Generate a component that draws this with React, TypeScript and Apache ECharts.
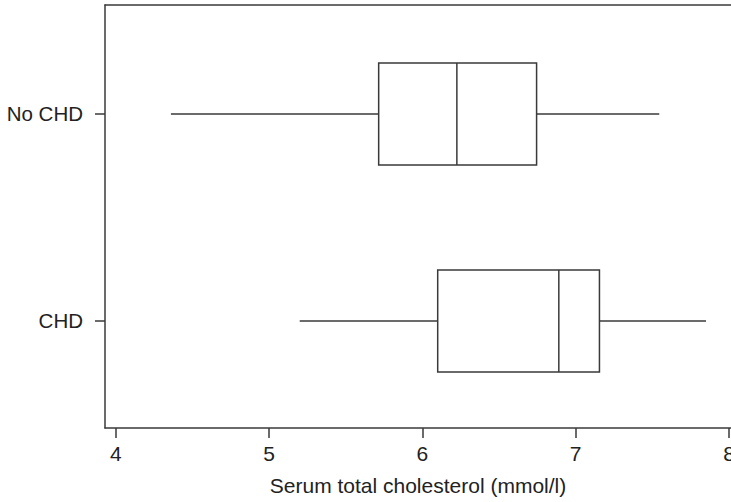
import React, { useEffect, useRef } from "react";
import * as echarts from "echarts";

const categories = ["CHD", "No CHD"];
const whiskerLow = [5.2, 4.36];
const q1 = [6.1, 5.715];
const median = [6.89, 6.225];
const q3 = [7.155, 6.745];
const whiskerHigh = [7.85, 7.545];
const xTicks = [4, 5, 6, 7, 8];
const xAxisTitle = "Serum total cholesterol (mmol/l)";

const LINE = "#3a3a3a";
const TEXT = "#222222";
const FONT = "Liberation Sans";

export default function App() {
  const ref = useRef<HTMLDivElement>(null);
  useEffect(() => {
    if (!ref.current) return;
    const chart = echarts.init(ref.current, null, { renderer: "svg" });
    const data = categories.map((_, i) => [i, whiskerLow[i], q1[i], median[i], q3[i], whiskerHigh[i]]);
    const halfH = 51;
    chart.setOption({
      animation: false,
      grid: { left: 105, right: 0, top: 5, bottom: 74, containLabel: false, outerBoundsMode: "none" },
      xAxis: [
        {
          type: "value",
          min: 3.93,
          max: 8.013,
          axisLine: { show: true, onZero: false, lineStyle: { color: LINE, width: 1.5 } },
          axisTick: { show: true, length: 10, customValues: xTicks, lineStyle: { color: LINE, width: 1.5 } },
          axisLabel: {
            customValues: xTicks,
            margin: 15,
            color: TEXT,
            fontFamily: FONT,
            fontSize: 21,
            showMaxLabel: true,
            showMinLabel: true,
            hideOverlap: false,
          },
          splitLine: { show: false },
          name: xAxisTitle,
          nameLocation: "middle",
          nameGap: 47,
          nameTextStyle: { color: TEXT, fontFamily: FONT, fontSize: 21 },
        },
        {
          type: "value",
          position: "top",
          min: 3.93,
          max: 8.013,
          axisLine: { show: true, onZero: false, lineStyle: { color: LINE, width: 1.5 } },
          axisTick: { show: false },
          axisLabel: { show: false },
          splitLine: { show: false },
        },
      ],
      yAxis: {
        type: "value",
        min: -0.517,
        max: 1.5266,
        axisLine: { show: true, onZero: false, lineStyle: { color: LINE, width: 1.5 } },
        axisTick: { show: true, length: 10, customValues: [0, 1], lineStyle: { color: LINE, width: 1.5 } },
        axisLabel: {
          customValues: [0, 1],
          margin: 22,
          color: TEXT,
          fontFamily: FONT,
          fontSize: 20.5,
          formatter: (v: number) => categories[Math.round(v)] ?? "",
        },
        splitLine: { show: false },
      },
      series: [
        {
          type: "custom",
          xAxisIndex: 0,
          data,
          renderItem: (params: any, api: any) => {
            const y = api.value(0);
            const pLow = api.coord([api.value(1), y]);
            const pQ1 = api.coord([api.value(2), y]);
            const pMed = api.coord([api.value(3), y]);
            const pQ3 = api.coord([api.value(4), y]);
            const pHigh = api.coord([api.value(5), y]);
            const cy = pQ1[1];
            const style = { stroke: LINE, lineWidth: 1.5, fill: null };
            return {
              type: "group",
              children: [
                { type: "line", shape: { x1: pLow[0], y1: cy, x2: pQ1[0], y2: cy }, style },
                { type: "line", shape: { x1: pQ3[0], y1: cy, x2: pHigh[0], y2: cy }, style },
                {
                  type: "rect",
                  shape: { x: pQ1[0], y: cy - halfH, width: pQ3[0] - pQ1[0], height: halfH * 2 },
                  style: { stroke: LINE, lineWidth: 1.5, fill: "#ffffff" },
                },
                { type: "line", shape: { x1: pMed[0], y1: cy - halfH, x2: pMed[0], y2: cy + halfH }, style },
              ],
            };
          },
        },
      ],
    });
    return () => chart.dispose();
  }, []);
  return <div ref={ref} style={{ width: 731, height: 502, position: "absolute", left: 0, top: 0 }} />;
}
